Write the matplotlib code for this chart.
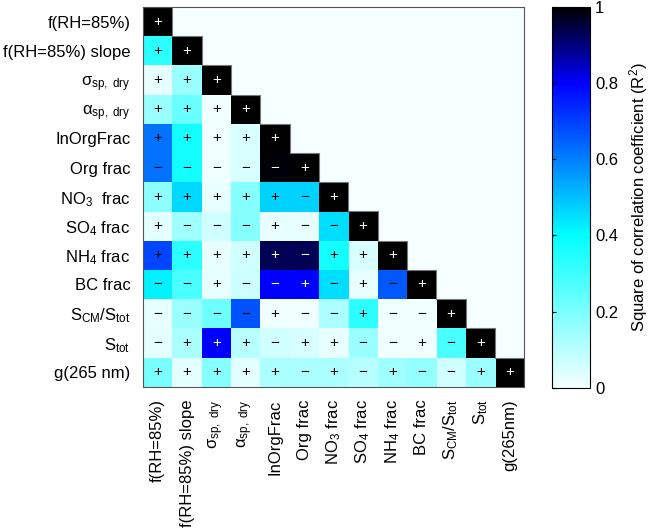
import numpy as np
import matplotlib
matplotlib.use("Agg")
import matplotlib.pyplot as plt
from matplotlib.colors import LinearSegmentedColormap

plt.rcParams['font.family'] = ['Liberation Sans', 'DejaVu Sans']
plt.rcParams['mathtext.fontset'] = 'custom'
plt.rcParams['mathtext.rm'] = 'Liberation Sans'
plt.rcParams['mathtext.it'] = 'Liberation Sans:italic'
plt.rcParams['mathtext.bf'] = 'Liberation Sans:bold'

# row labels (left) and column labels (bottom)
row_labels = ['f(RH=85%)', 'f(RH=85%) slope', r'$\mathrm{σ}_{\mathrm{sp,\ dry}}$',
              r'$\mathrm{α}_{\mathrm{sp,\ dry}}$', 'InOrgFrac', 'Org frac',
              r'NO$_3$  frac', r'SO$_4$ frac', r'NH$_4$ frac', 'BC frac',
              r'S$_{\mathrm{CM}}$/S$_{\mathrm{tot}}$', r'S$_{\mathrm{tot}}$', 'g(265 nm)']
col_labels = ['f(RH=85%)', 'f(RH=85%) slope', r'$\mathrm{σ}_{\mathrm{sp,\ dry}}$',
              r'$\mathrm{α}_{\mathrm{sp,\ dry}}$', 'InOrgFrac', 'Org frac',
              r'NO$_3$ frac', r'SO$_4$ frac', r'NH$_4$ frac', 'BC frac',
              r'S$_{\mathrm{CM}}$/S$_{\mathrm{tot}}$', r'S$_{\mathrm{tot}}$', 'g(265nm)']

# lower triangle of R^2 values, one list per row
r2_rows = [
    [1.0],
    [0.33, 1.0],
    [0.02, 0.15, 1.0],
    [0.15, 0.23, 0.01, 1.0],
    [0.62, 0.37, 0.01, 0.05, 1.0],
    [0.62, 0.37, 0.01, 0.05, 0.99, 1.0],
    [0.17, 0.46, 0.02, 0.18, 0.47, 0.47, 1.0],
    [0.03, 0.14, 0.06, 0.18, 0.02, 0.02, 0.45, 1.0],
    [0.69, 0.33, 0.02, 0.06, 0.93, 0.93, 0.37, 0.05, 1.0],
    [0.42, 0.28, 0.02, 0.07, 0.80, 0.80, 0.45, 0.02, 0.66, 1.0],
    [0.02, 0.15, 0.22, 0.67, 0.01, 0.01, 0.12, 0.33, 0.01, 0.01, 1.0],
    [0.03, 0.12, 0.80, 0.10, 0.06, 0.05, 0.02, 0.15, 0.01, 0.01, 0.28, 1.0],
    [0.20, 0.03, 0.18, 0.03, 0.12, 0.12, 0.12, 0.10, 0.14, 0.16, 0.06, 0.15, 1.0],
]

# sign of the correlation for each cell
sign_rows = [
    "+",
    "++",
    "+++",
    "++++",
    "+++++",
    "−−−−−+",
    "+++++−+",
    "+−−−+−−+",
    "+++++−+++",
    "−−+−−+−+−+",
    "−−−−+−−+−−+",
    "−+++−++−−+−+",
    "+++++−+−+−−++",
]

n = len(row_labels)
mat = np.full((n, n), np.nan)
for i, row in enumerate(r2_rows):
    mat[i, :len(row)] = row

cmap = LinearSegmentedColormap.from_list(
    'r2', [(0.0, '#F5FFFF'), (0.4, '#00FFFF'), (0.8, '#0000FF'), (1.0, '#000000')])

fig = plt.figure(figsize=(6.53, 5.32), dpi=100)
ax = fig.add_axes([0.219, 0.273, 0.584, 0.714])
cax = fig.add_axes([0.845, 0.271, 0.059, 0.716])

ax.set_facecolor(cmap(0.0))
im = ax.imshow(np.ma.masked_invalid(mat), cmap=cmap, vmin=0, vmax=1,
               aspect='auto', interpolation='nearest',
               extent=(-0.5, n - 0.5, n - 0.5, -0.5))

for i, signs in enumerate(sign_rows):
    for j, s in enumerate(signs):
        c = 'white' if mat[i, j] > 0.75 else 'black'
        ax.text(j, i, s, ha='center', va='center', fontsize=11, color=c)

# staircase edge along the diagonal
sx, sy = [-0.5], [-0.5]
for k in range(n):
    sx += [k + 0.5, k + 0.5]
    sy += [k - 0.5, k + 0.5]
ax.plot(sx, sy, color='#777777', lw=0.8)

ax.set_xlim(-0.5, n - 0.5)
ax.set_ylim(n - 0.5, -0.5)
ax.set_xticks(range(n))
ax.set_yticks(range(n))
ax.set_xticklabels(col_labels, rotation=90, fontsize=12)
ax.set_yticklabels(row_labels, fontsize=12)
ax.tick_params(length=0, pad=9)
for sp in ax.spines.values():
    sp.set_color('#555555')
    sp.set_linewidth(0.8)

cb = fig.colorbar(im, cax=cax, ticks=[0, 0.2, 0.4, 0.6, 0.8, 1])
cb.ax.set_yticklabels(['0', '0.2', '0.4', '0.6', '0.8', '1'])
cb.ax.tick_params(direction='in', left=True, right=False, labelright=True,
                  length=3, labelsize=12)
cb.outline.set_linewidth(0.8)
cb.set_label('Square of correlation coefficient (R$^2$)', fontsize=12, labelpad=6)

fig.savefig('out.png', dpi=100)
